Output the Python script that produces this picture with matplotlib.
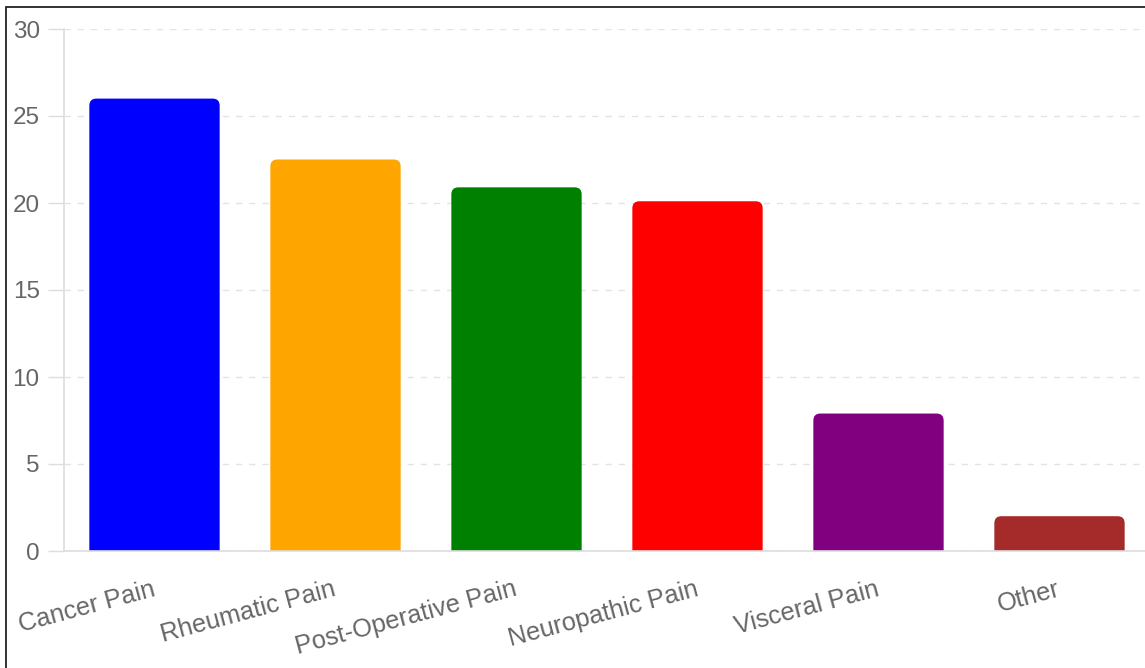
import matplotlib
matplotlib.use("Agg")
import matplotlib.pyplot as plt
from matplotlib.patches import FancyBboxPatch, Rectangle

categories = ["Cancer Pain", "Rheumatic Pain", "Post-Operative Pain",
              "Neuropathic Pain", "Visceral Pain", "Other"]
values = [26.0, 22.5, 20.9, 20.1, 7.9, 2.0]
colors = ["#0000ff", "#ffa500", "#008000", "#ff0000", "#800080", "#a52a2a"]
yticks = [0, 5, 10, 15, 20, 25, 30]

plt.rcParams['font.family'] = ['Liberation Sans', 'DejaVu Sans']

W, H = 1145, 668
fig = plt.figure(figsize=(W / 100, H / 100), dpi=100)
fig.patch.set_facecolor("white")

left_px, right_px = 64, 1150
bottom_px, top_px = 551, 29
ax = fig.add_axes([left_px / W, (H - bottom_px) / H,
                   (right_px - left_px) / W, (bottom_px - top_px) / H])

x = list(range(len(categories)))
bars = ax.bar(x, values, width=0.72, color=colors)
ax.set_xlim(-0.5, len(categories) - 0.5)
ax.set_ylim(0, 30)

# replace bars with rounded-top versions
px_per_x = (right_px - left_px) / len(categories)
px_per_y = (bottom_px - top_px) / 30.0
r_px = 7.0
rx = r_px / px_per_x
aspect = px_per_x / px_per_y
for b in bars:
    b.set_visible(False)
    bx, bw, bh = b.get_x(), b.get_width(), b.get_height()
    p = FancyBboxPatch((bx, -2), bw, bh + 2,
                       boxstyle=f"round,pad=0,rounding_size={rx}",
                       mutation_aspect=aspect,
                       facecolor=b.get_facecolor(), edgecolor="none",
                       clip_on=True, zorder=2)
    ax.add_patch(p)

ax.set_yticks(yticks)
ax.set_yticklabels([str(t) for t in yticks])
ax.grid(axis="y", color="#e3e3e3", linestyle=(0, (4.5, 5)), linewidth=1.0, zorder=0)
ax.set_axisbelow(True)

for s in ["top", "right"]:
    ax.spines[s].set_visible(False)
for s in ["left", "bottom"]:
    ax.spines[s].set_color("#dddddd")
    ax.spines[s].set_linewidth(1.2)
    ax.spines[s].set_zorder(3)

ax.tick_params(axis="y", length=11.5, width=1.0, color="#dddddd",
               labelsize=17.5, labelcolor="#666666", pad=6)
ax.set_xticks(x)
ax.set_xticklabels(categories, rotation=15, ha="right", va="center",
                   rotation_mode="anchor")
ax.tick_params(axis="x", length=0, labelsize=18.3, labelcolor="#666666", pad=27)

# outer border
fig.add_artist(Rectangle((6 / W, -0.1), 1.2, (H - 7) / H + 0.1,
                         transform=fig.transFigure, fill=False,
                         edgecolor="#222222", linewidth=1.3))

fig.savefig("out.png", dpi=100)
